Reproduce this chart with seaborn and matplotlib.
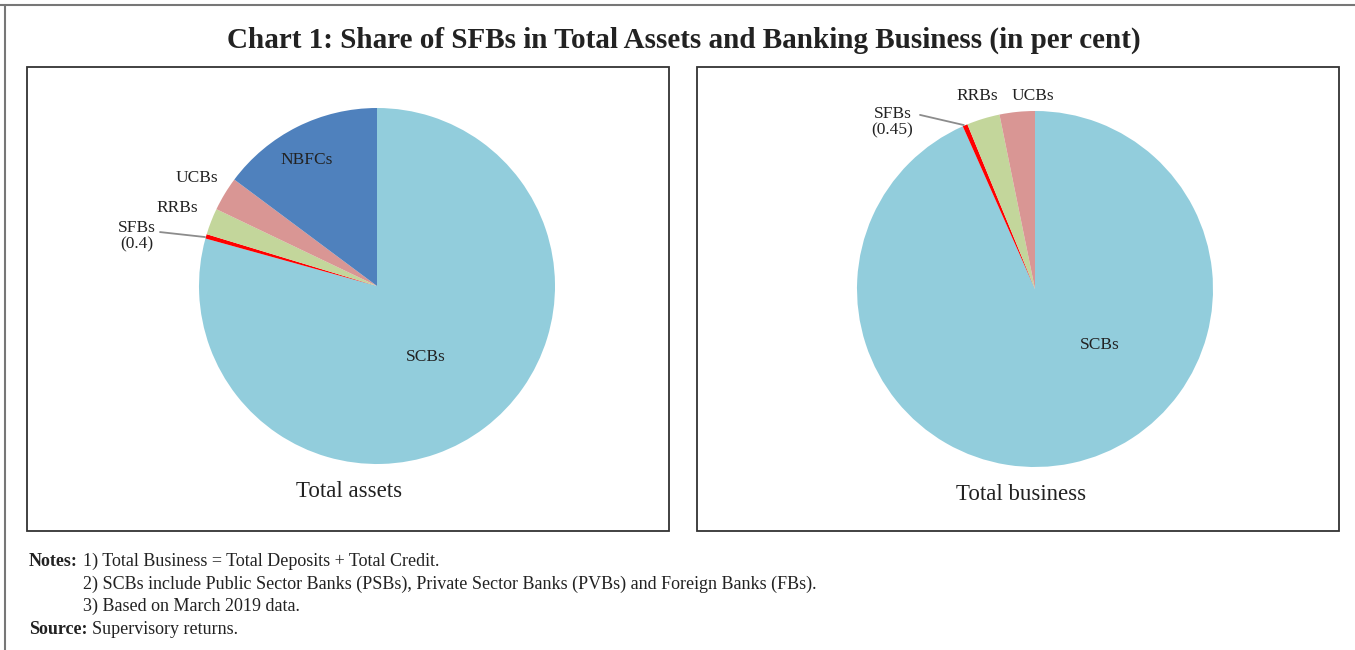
# Chart 1: Share of SFBs in total assets and banking business (pie charts)
import matplotlib
matplotlib.use("Agg")
import matplotlib.pyplot as plt
from matplotlib.patches import Rectangle
from matplotlib.lines import Line2D
import seaborn as sns

# --- DATA (in per cent) ---
assets_labels = ["SCBs", "SFBs", "RRBs", "UCBs", "NBFCs"]
assets_values = [79.3, 0.4, 2.4, 3.1, 14.8]

business_labels = ["SCBs", "SFBs", "RRBs", "UCBs"]
business_values = [93.35, 0.45, 3.0, 3.2]

colours = {"SCBs": "#92CDDC", "SFBs": "#FF0000", "RRBs": "#C3D69B",
           "UCBs": "#D99694", "NBFCs": "#4F81BD"}

# --- STYLE ---
sns.set_theme(style="white")
plt.rcParams["font.family"] = ["Liberation Serif", "DejaVu Serif"]
W, H = 1355, 650
fig = plt.figure(figsize=(W / 100, H / 100), dpi=100)


def px_box(x0, y0, x1, y1):
    """pixel box (top-left origin) -> figure fraction [left, bottom, w, h]"""
    return [x0 / W, 1 - y1 / H, (x1 - x0) / W, (y1 - y0) / H]


# outer frame lines (top and left) and the two panel boxes
fig.add_artist(Line2D([0, 1], [1 - 5 / H, 1 - 5 / H], color="#777777", lw=1.5))
fig.add_artist(Line2D([5 / W, 5 / W], [0, 1 - 5 / H], color="#777777", lw=1.5))
for box in [(27, 67, 669, 531), (697, 67, 1339, 531)]:
    l, b, w, h = px_box(*box)
    fig.add_artist(Rectangle((l, b), w, h, transform=fig.transFigure,
                             fill=False, edgecolor="#333333", lw=1.3))

fig.text(0.505, 1 - 40 / H,
         "Chart 1: Share of SFBs in Total Assets and Banking Business (in per cent)",
         ha="center", va="center", fontsize=21, fontweight="bold", color="#222222")


def draw_pie(ax, labels, values):
    ax.pie(values, colors=[colours[k] for k in labels], startangle=90,
           counterclock=False, radius=1, wedgeprops=dict(linewidth=0))
    ax.set_xlim(-1, 1)
    ax.set_ylim(-1, 1)
    ax.set_aspect("equal")
    ax.axis("off")


def leader(ax, start, end):
    ax.annotate("", xy=end, xytext=start,
                arrowprops=dict(arrowstyle="-", color="#8c8c8c", lw=1.3,
                                shrinkA=0, shrinkB=0))


lab = dict(fontsize=12.5, color="#222222", ha="center", va="center")

# --- LEFT: total assets ---
ax1 = fig.add_axes(px_box(199, 108, 555, 464))
draw_pie(ax1, assets_labels, assets_values)
ax1.text(-0.393, 0.708, "NBFCs", **lab)
ax1.text(0.275, -0.399, "SCBs", **lab)
ax1.text(-1.011, 0.607, "UCBs", **lab)
ax1.text(-1.124, 0.438, "RRBs", **lab)
ax1.text(-1.35, 0.281, "SFBs\n(0.4)", linespacing=1.05, **lab)
leader(ax1, (-1.219, 0.303), (-0.966, 0.275))
ax1.text(-0.157, -1.157, "Total assets", fontsize=16.5, color="#222222",
         ha="center", va="center")

# --- RIGHT: total business ---
ax2 = fig.add_axes(px_box(857, 111, 1213, 467))
draw_pie(ax2, business_labels, business_values)
ax2.text(0.365, -0.315, "SCBs", **lab)
ax2.text(-0.326, 1.084, "RRBs", **lab)
ax2.text(-0.011, 1.084, "UCBs", **lab)
ax2.text(-0.80, 0.938, "SFBs\n(0.45)", linespacing=1.05, **lab)
leader(ax2, (-0.646, 0.978), (-0.40, 0.921))
ax2.text(-0.079, -1.152, "Total business", fontsize=16.5, color="#222222",
         ha="center", va="center")

# --- NOTES ---
note = dict(fontsize=13, color="#222222", va="center", ha="left")
fig.text(29 / W, 1 - 561 / H, "Notes:", fontweight="bold", **note)
fig.text(83 / W, 1 - 561 / H, "1) Total Business = Total Deposits + Total Credit.", **note)
fig.text(83 / W, 1 - 584 / H,
         "2) SCBs include Public Sector Banks (PSBs), Private Sector Banks (PVBs) "
         "and Foreign Banks (FBs).", **note)
fig.text(83 / W, 1 - 606 / H, "3) Based on March 2019 data.", **note)
fig.text(29 / W, 1 - 629 / H, "Source:", fontweight="bold", **note)
fig.text(92 / W, 1 - 629 / H, "Supervisory returns.", **note)

fig.savefig("out.png", dpi=100)
